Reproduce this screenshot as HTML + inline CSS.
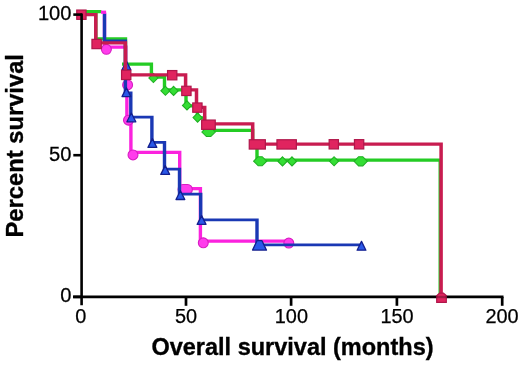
<!DOCTYPE html>
<html lang="en"><head><meta charset="utf-8"><title>Overall survival</title>
<style>
html,body{margin:0;padding:0;background:#fff;}
body{width:520px;height:365px;overflow:hidden;font-family:"Liberation Sans",sans-serif;}
svg{display:block;will-change:transform;}
</style></head><body>
<svg width="520" height="365" viewBox="0 0 520 365">
<rect width="520" height="365" fill="#fff"/>
<path d="M73,296.9H503.5" stroke="#000" stroke-width="2.7" fill="none"/>
<path d="M186,296.9V305.8" stroke="#000" stroke-width="2.7" fill="none"/>
<path d="M291.1,296.9V305.8" stroke="#000" stroke-width="2.7" fill="none"/>
<path d="M396.9,296.9V305.8" stroke="#000" stroke-width="2.7" fill="none"/>
<path d="M502.2,296.9V305.8" stroke="#000" stroke-width="2.7" fill="none"/>
<path d="M102.80,12.20H106.20V48.65H102.80ZM102.80,45.55H127.50V48.65H102.80ZM124.10,45.55H127.50V81.55H124.10ZM124.10,78.45H128.60V81.55H124.10ZM125.20,78.45H128.60V121.55H125.20ZM125.20,118.45H132.60V121.55H125.20ZM129.20,118.45H132.60V153.95H129.20ZM129.20,150.85H181.40V153.95H129.20ZM178.00,150.85H181.40V190.15H178.00ZM178.00,187.05H202.10V190.15H178.00ZM198.70,187.05H202.10V242.65H198.70ZM198.70,239.55H288.80V242.65H198.70Z" fill="#fb22de"/>
<circle cx="106.4" cy="49.3" r="4.95" fill="#ff3cec" stroke="#d81cc2" stroke-width="1.1"/>
<circle cx="127.6" cy="84.9" r="4.95" fill="#ff3cec" stroke="#d81cc2" stroke-width="1.1"/>
<circle cx="128.5" cy="120.2" r="4.95" fill="#ff3cec" stroke="#d81cc2" stroke-width="1.1"/>
<circle cx="133.0" cy="154.9" r="4.95" fill="#ff3cec" stroke="#d81cc2" stroke-width="1.1"/>
<circle cx="203.3" cy="242.8" r="4.95" fill="#ff3cec" stroke="#d81cc2" stroke-width="1.1"/>
<circle cx="288.8" cy="243.1" r="4.95" fill="#ff3cec" stroke="#d81cc2" stroke-width="1.1"/>
<rect x="178.05" y="184.45" width="14.30" height="9.9" rx="4.95" fill="#ff3cec" stroke="#d81cc2" stroke-width="1.1"/>
<path d="M82.00,9.95H101.40V13.25H82.00ZM94.10,11.60H97.50V40.45H94.10ZM94.10,37.15H127.20V40.45H94.10ZM123.80,37.15H127.20V64.10H123.80ZM122.00,62.45H153.10V65.75H122.00ZM149.70,62.45H153.10V78.65H149.70ZM149.70,75.35H166.20V78.65H149.70ZM162.80,75.35H166.20V91.45H162.80ZM162.80,88.15H187.70V91.45H162.80ZM184.30,88.15H187.70V107.45H184.30ZM184.30,104.15H199.10V107.45H184.30ZM195.70,104.15H199.10V119.65H195.70ZM195.70,116.35H206.20V119.65H195.70ZM202.80,116.35H206.20V132.05H202.80ZM202.80,128.75H254.30V132.05H202.80ZM250.90,128.75H254.30V148.65H250.90ZM250.90,145.35H258.70V148.65H250.90ZM255.30,145.35H258.70V161.75H255.30ZM255.30,158.45H441.90V161.75H255.30ZM438.50,158.45H441.90V297.00H438.50Z" fill="#24cc24"/>
<path d="M153.4,73.45L157.95,78.0L153.4,82.55L148.85,78.0Z" fill="#34de34" stroke="#1fae22" stroke-width="1.05" stroke-linejoin="miter"/>
<path d="M165.4,86.25L169.95,90.8L165.4,95.35L160.85,90.8Z" fill="#34de34" stroke="#1fae22" stroke-width="1.05" stroke-linejoin="miter"/>
<path d="M173.6,86.35L178.15,90.9L173.6,95.45L169.05,90.9Z" fill="#34de34" stroke="#1fae22" stroke-width="1.05" stroke-linejoin="miter"/>
<path d="M187.0,100.85L191.55,105.4L187.0,109.95L182.45,105.4Z" fill="#34de34" stroke="#1fae22" stroke-width="1.05" stroke-linejoin="miter"/>
<path d="M197.6,113.05L202.15,117.6L197.6,122.15L193.05,117.6Z" fill="#34de34" stroke="#1fae22" stroke-width="1.05" stroke-linejoin="miter"/>
<path d="M282.5,156.85L287.05,161.4L282.5,165.95L277.95,161.4Z" fill="#34de34" stroke="#1fae22" stroke-width="1.05" stroke-linejoin="miter"/>
<path d="M292.0,156.85L296.55,161.4L292.0,165.95L287.45,161.4Z" fill="#34de34" stroke="#1fae22" stroke-width="1.05" stroke-linejoin="miter"/>
<path d="M334.1,156.75L338.65,161.3L334.1,165.85L329.55,161.3Z" fill="#34de34" stroke="#1fae22" stroke-width="1.05" stroke-linejoin="miter"/>
<path d="M201.85,132.0L206.4,127.45H210.8L215.35,132.0L210.8,136.55H206.4Z" fill="#34de34" stroke="#1fae22" stroke-width="1.05" stroke-linejoin="miter"/>
<path d="M253.65,161.2L258.2,156.65H262.2L266.75,161.2L262.2,165.75H258.2Z" fill="#34de34" stroke="#1fae22" stroke-width="1.05" stroke-linejoin="miter"/>
<path d="M354.05,161.3L358.6,156.75H362.8L367.35,161.3L362.8,165.85H358.6Z" fill="#34de34" stroke="#1fae22" stroke-width="1.05" stroke-linejoin="miter"/>
<path d="M102.80,13.50H106.20V42.40H102.80ZM102.80,39.60H127.10V42.40H102.80ZM123.70,39.60H127.10V94.40H123.70ZM123.70,91.60H132.50V94.40H123.70ZM129.10,91.60H132.50V118.60H129.10ZM129.10,115.80H153.60V118.60H129.10ZM150.20,115.80H153.60V143.80H150.20ZM150.20,141.00H166.20V143.80H150.20ZM162.80,141.00H166.20V170.50H162.80ZM162.80,167.70H181.20V170.50H162.80ZM177.80,167.70H181.20V195.50H177.80ZM177.80,192.70H202.40V195.50H177.80ZM199.00,192.70H202.40V221.20H199.00ZM199.00,218.40H258.70V221.20H199.00ZM255.30,218.40H258.70V246.20H255.30ZM255.30,243.40H361.60V246.20H255.30Z" fill="#1a38b4"/>
<path d="M101,12.2H106.1" fill="none" stroke="#fb22de" stroke-width="3.2" stroke-linejoin="miter" stroke-linecap="butt"/>
<path d="M126.4,61.0L130.8,69.8L122.0,69.8Z" fill="#2a58e8" stroke="#131f8e" stroke-width="1.3" stroke-linejoin="round"/>
<path d="M126.4,87.8L130.8,96.6L122.0,96.6Z" fill="#2a58e8" stroke="#131f8e" stroke-width="1.3" stroke-linejoin="round"/>
<path d="M131.3,113.0L135.8,121.8L126.9,121.8Z" fill="#2a58e8" stroke="#131f8e" stroke-width="1.3" stroke-linejoin="round"/>
<path d="M152.4,138.6L156.8,147.4L148.0,147.4Z" fill="#2a58e8" stroke="#131f8e" stroke-width="1.3" stroke-linejoin="round"/>
<path d="M165.2,165.6L169.6,174.4L160.8,174.4Z" fill="#2a58e8" stroke="#131f8e" stroke-width="1.3" stroke-linejoin="round"/>
<path d="M180.4,190.7L184.8,199.5L176.0,199.5Z" fill="#2a58e8" stroke="#131f8e" stroke-width="1.3" stroke-linejoin="round"/>
<path d="M201.6,215.6L206.0,224.4L197.2,224.4Z" fill="#2a58e8" stroke="#131f8e" stroke-width="1.3" stroke-linejoin="round"/>
<path d="M361.5,241.4L365.9,250.2L357.1,250.2Z" fill="#2a58e8" stroke="#131f8e" stroke-width="1.3" stroke-linejoin="round"/>
<path d="M252.55,250.10L257,240.70H262L266.45,250.10Z" fill="#2a58e8" stroke="#131f8e" stroke-width="1.3" stroke-linejoin="round"/>
<path d="M82.00,13.10H97.55V16.30H82.00ZM94.05,13.10H97.55V44.40H94.05ZM94.05,41.20H127.15V44.40H94.05ZM123.65,41.20H127.15V76.40H123.65ZM123.65,73.20H187.35V76.40H123.65ZM183.85,73.20H187.35V91.50H183.85ZM183.85,88.30H198.25V91.50H183.85ZM194.75,88.30H198.25V108.90H194.75ZM194.75,105.70H206.45V108.90H194.75ZM202.95,105.70H206.45V125.40H202.95ZM202.95,122.20H254.45V125.40H202.95ZM250.95,122.20H254.45V145.70H250.95ZM250.95,142.50H442.85V145.70H250.95ZM439.35,142.50H442.85V298.00H439.35Z" fill="#c81c50"/>
<rect x="76.75" y="10.05" width="9.30" height="9.30" fill="#e0245f" stroke="#b0164a" stroke-width="1.2"/>
<rect x="91.95" y="39.35" width="9.30" height="9.30" fill="#e0245f" stroke="#b0164a" stroke-width="1.2"/>
<rect x="121.55" y="70.25" width="9.30" height="9.30" fill="#e0245f" stroke="#b0164a" stroke-width="1.2"/>
<rect x="167.55" y="70.55" width="9.30" height="9.30" fill="#e0245f" stroke="#b0164a" stroke-width="1.2"/>
<rect x="181.75" y="86.25" width="9.30" height="9.30" fill="#e0245f" stroke="#b0164a" stroke-width="1.2"/>
<rect x="192.75" y="102.95" width="9.30" height="9.30" fill="#e0245f" stroke="#b0164a" stroke-width="1.2"/>
<rect x="329.15" y="139.65" width="9.30" height="9.30" fill="#e0245f" stroke="#b0164a" stroke-width="1.2"/>
<rect x="354.45" y="139.65" width="9.30" height="9.30" fill="#e0245f" stroke="#b0164a" stroke-width="1.2"/>
<rect x="201.65" y="120.05" width="13.60" height="9.30" fill="#e0245f" stroke="#b0164a" stroke-width="1.2"/>
<rect x="249.25" y="139.75" width="16.10" height="9.30" fill="#e0245f" stroke="#b0164a" stroke-width="1.2"/>
<rect x="276.95" y="139.75" width="19.40" height="9.30" fill="#e0245f" stroke="#b0164a" stroke-width="1.2"/>
<path d="M436.7,295.6L439.6,293.1H443.4L446.3,295.6V302.3H436.7Z" fill="#e0245f" stroke="#b0164a" stroke-width="1.2"/>
<rect x="436.1" y="295.8" width="10.8" height="2.4" fill="#000" fill-opacity="0.28"/>
<path d="M81.6,13.4V305.2" stroke="#000" stroke-width="2.6" fill="none"/>
<path d="M73.3,14.6H82" stroke="#000" stroke-width="2.6" fill="none"/>
<path d="M73.3,155.2H82" stroke="#000" stroke-width="2.6" fill="none"/>
<path d="M73.3,296.9H82" stroke="#000" stroke-width="2.6" fill="none"/>
<text transform="translate(71.5,20.1) scale(1.012,1)" text-anchor="end" font-size="19.9" font-family="'Liberation Sans', sans-serif" fill="#000" stroke="#000" stroke-width="0.25">100</text>
<text transform="translate(71.5,160.7) scale(1.012,1)" text-anchor="end" font-size="19.9" font-family="'Liberation Sans', sans-serif" fill="#000" stroke="#000" stroke-width="0.25">50</text>
<text transform="translate(71.5,302.4) scale(1.012,1)" text-anchor="end" font-size="19.9" font-family="'Liberation Sans', sans-serif" fill="#000" stroke="#000" stroke-width="0.25">0</text>
<text transform="translate(80.8,323.1) scale(1.0,1)" text-anchor="middle" font-size="19.9" font-family="'Liberation Sans', sans-serif" fill="#000" stroke="#000" stroke-width="0.25">0</text>
<text transform="translate(186,323.1) scale(1.0,1)" text-anchor="middle" font-size="19.9" font-family="'Liberation Sans', sans-serif" fill="#000" stroke="#000" stroke-width="0.25">50</text>
<text transform="translate(291.4,323.1) scale(1.0,1)" text-anchor="middle" font-size="19.9" font-family="'Liberation Sans', sans-serif" fill="#000" stroke="#000" stroke-width="0.25">100</text>
<text transform="translate(397,323.1) scale(1.0,1)" text-anchor="middle" font-size="19.9" font-family="'Liberation Sans', sans-serif" fill="#000" stroke="#000" stroke-width="0.25">150</text>
<text transform="translate(502.0,323.1) scale(1.0,1)" text-anchor="middle" font-size="19.9" font-family="'Liberation Sans', sans-serif" fill="#000" stroke="#000" stroke-width="0.25">200</text>
<text x="292.5" y="355.1" text-anchor="middle" font-size="23.5" font-weight="bold" font-family="'Liberation Sans', sans-serif" fill="#000" stroke="#000" stroke-width="0.35">Overall survival (months)</text>
<text transform="translate(22.7,145.8) rotate(-90) scale(1.033,1)" text-anchor="middle" font-size="23.0" font-weight="bold" font-family="'Liberation Sans', sans-serif" fill="#000" stroke="#000" stroke-width="0.35">Percent survival</text>
</svg>
</body></html>
